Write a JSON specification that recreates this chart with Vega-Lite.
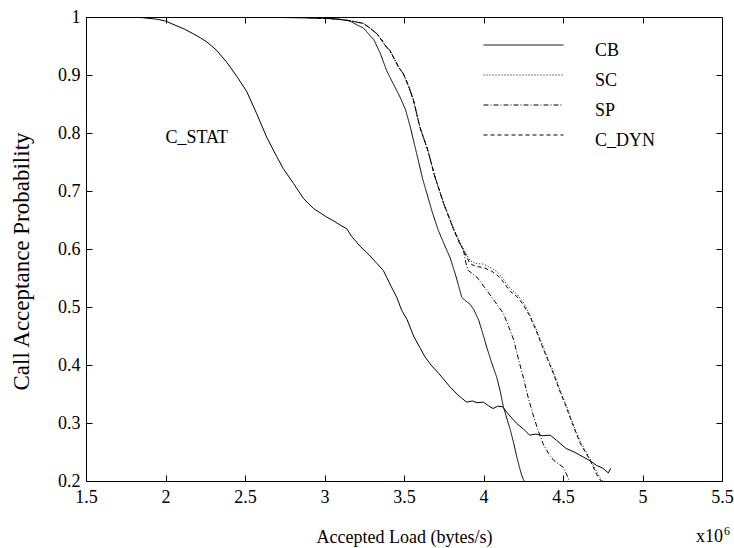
{
  "$schema": "https://vega.github.io/schema/vega-lite/v6.json",
  "width": 636,
  "height": 464,
  "autosize": {"type": "none"},
  "padding": {"left": 86, "top": 17, "right": 12, "bottom": 67},
  "background": "white",
  "config": {
    "view": {"stroke": "black", "strokeWidth": 1},
    "font": "Liberation Serif, serif",
    "axis": {
      "grid": false,
      "domainColor": "black",
      "tickColor": "black",
      "labelColor": "black",
      "titleColor": "black",
      "labelFont": "Liberation Serif, serif",
      "titleFont": "Liberation Serif, serif",
      "labelFontSize": 18,
      "titleFontSize": 18,
      "titleFontWeight": "normal",
      "tickSize": -6,
      "labelFlush": false,
      "labelOverlap": false
    },
    "legend": {
      "orient": "none",
      "legendX": 397,
      "legendY": 13.5,
      "direction": "vertical",
      "symbolType": "stroke",
      "symbolSize": 6400,
      "symbolStrokeWidth": 1,
      "symbolStrokeColor": "black",
      "labelFont": "Liberation Serif, serif",
      "labelFontSize": 18,
      "labelColor": "black",
      "labelOffset": 31,
      "clipHeight": 29,
      "rowPadding": 0,
      "padding": 0,
      "labelBaseline": "alphabetic"
    }
  },
  "datasets": {
    "curves": [
      {"series": "C_STAT", "load": 1.5, "prob": 1.0},
      {"series": "C_STAT", "load": 1.7, "prob": 1.0},
      {"series": "C_STAT", "load": 1.85, "prob": 0.999},
      {"series": "C_STAT", "load": 1.95, "prob": 0.996},
      {"series": "C_STAT", "load": 2.0, "prob": 0.993},
      {"series": "C_STAT", "load": 2.06, "prob": 0.986},
      {"series": "C_STAT", "load": 2.12, "prob": 0.979},
      {"series": "C_STAT", "load": 2.175, "prob": 0.971},
      {"series": "C_STAT", "load": 2.22, "prob": 0.964},
      {"series": "C_STAT", "load": 2.26, "prob": 0.957},
      {"series": "C_STAT", "load": 2.32, "prob": 0.943},
      {"series": "C_STAT", "load": 2.385, "prob": 0.922},
      {"series": "C_STAT", "load": 2.45, "prob": 0.897},
      {"series": "C_STAT", "load": 2.51, "prob": 0.872},
      {"series": "C_STAT", "load": 2.574, "prob": 0.833},
      {"series": "C_STAT", "load": 2.636, "prob": 0.793},
      {"series": "C_STAT", "load": 2.7, "prob": 0.759},
      {"series": "C_STAT", "load": 2.74, "prob": 0.739},
      {"series": "C_STAT", "load": 2.805, "prob": 0.713},
      {"series": "C_STAT", "load": 2.868, "prob": 0.687},
      {"series": "C_STAT", "load": 2.93, "prob": 0.67},
      {"series": "C_STAT", "load": 3.014, "prob": 0.655},
      {"series": "C_STAT", "load": 3.06, "prob": 0.648},
      {"series": "C_STAT", "load": 3.1, "prob": 0.641},
      {"series": "C_STAT", "load": 3.14, "prob": 0.635},
      {"series": "C_STAT", "load": 3.17, "prob": 0.622},
      {"series": "C_STAT", "load": 3.223, "prob": 0.605},
      {"series": "C_STAT", "load": 3.28, "prob": 0.59},
      {"series": "C_STAT", "load": 3.33, "prob": 0.575},
      {"series": "C_STAT", "load": 3.37, "prob": 0.563},
      {"series": "C_STAT", "load": 3.42, "prob": 0.535},
      {"series": "C_STAT", "load": 3.454, "prob": 0.517},
      {"series": "C_STAT", "load": 3.486, "prob": 0.494},
      {"series": "C_STAT", "load": 3.52, "prob": 0.478},
      {"series": "C_STAT", "load": 3.56, "prob": 0.45},
      {"series": "C_STAT", "load": 3.6, "prob": 0.43},
      {"series": "C_STAT", "load": 3.632, "prob": 0.414},
      {"series": "C_STAT", "load": 3.67, "prob": 0.4},
      {"series": "C_STAT", "load": 3.72, "prob": 0.385},
      {"series": "C_STAT", "load": 3.79, "prob": 0.362},
      {"series": "C_STAT", "load": 3.84, "prob": 0.348},
      {"series": "C_STAT", "load": 3.894, "prob": 0.336},
      {"series": "C_STAT", "load": 3.93, "prob": 0.338},
      {"series": "C_STAT", "load": 3.96, "prob": 0.335},
      {"series": "C_STAT", "load": 3.999, "prob": 0.336},
      {"series": "C_STAT", "load": 4.03, "prob": 0.33},
      {"series": "C_STAT", "load": 4.06, "prob": 0.325},
      {"series": "C_STAT", "load": 4.09, "prob": 0.329},
      {"series": "C_STAT", "load": 4.12, "prob": 0.328},
      {"series": "C_STAT", "load": 4.16, "prob": 0.314},
      {"series": "C_STAT", "load": 4.21, "prob": 0.299},
      {"series": "C_STAT", "load": 4.25, "prob": 0.29},
      {"series": "C_STAT", "load": 4.29, "prob": 0.279},
      {"series": "C_STAT", "load": 4.33, "prob": 0.281},
      {"series": "C_STAT", "load": 4.37, "prob": 0.278},
      {"series": "C_STAT", "load": 4.42, "prob": 0.279},
      {"series": "C_STAT", "load": 4.46, "prob": 0.27},
      {"series": "C_STAT", "load": 4.52, "prob": 0.256},
      {"series": "C_STAT", "load": 4.57, "prob": 0.25},
      {"series": "C_STAT", "load": 4.63, "prob": 0.241},
      {"series": "C_STAT", "load": 4.67, "prob": 0.235},
      {"series": "C_STAT", "load": 4.71, "prob": 0.227},
      {"series": "C_STAT", "load": 4.75, "prob": 0.222},
      {"series": "C_STAT", "load": 4.785, "prob": 0.214},
      {"series": "C_STAT", "load": 4.8, "prob": 0.222},

      {"series": "CB", "load": 1.5, "prob": 1.0},
      {"series": "CB", "load": 2.5, "prob": 1.0},
      {"series": "CB", "load": 2.99, "prob": 0.998},
      {"series": "CB", "load": 3.1, "prob": 0.996},
      {"series": "CB", "load": 3.16, "prob": 0.993},
      {"series": "CB", "load": 3.2, "prob": 0.987},
      {"series": "CB", "load": 3.245, "prob": 0.981},
      {"series": "CB", "load": 3.286, "prob": 0.968},
      {"series": "CB", "load": 3.31, "prob": 0.961},
      {"series": "CB", "load": 3.35, "prob": 0.938},
      {"series": "CB", "load": 3.39, "prob": 0.908},
      {"series": "CB", "load": 3.41, "prob": 0.897},
      {"series": "CB", "load": 3.475, "prob": 0.862},
      {"series": "CB", "load": 3.51, "prob": 0.84},
      {"series": "CB", "load": 3.54, "prob": 0.81},
      {"series": "CB", "load": 3.58, "prob": 0.764},
      {"series": "CB", "load": 3.62, "prob": 0.718},
      {"series": "CB", "load": 3.65, "prob": 0.69},
      {"series": "CB", "load": 3.674, "prob": 0.667},
      {"series": "CB", "load": 3.7, "prob": 0.645},
      {"series": "CB", "load": 3.716, "prob": 0.632},
      {"series": "CB", "load": 3.75, "prob": 0.61},
      {"series": "CB", "load": 3.79, "prob": 0.585},
      {"series": "CB", "load": 3.83, "prob": 0.55},
      {"series": "CB", "load": 3.863, "prob": 0.517},
      {"series": "CB", "load": 3.89, "prob": 0.51},
      {"series": "CB", "load": 3.915, "prob": 0.505},
      {"series": "CB", "load": 3.94, "prob": 0.495},
      {"series": "CB", "load": 3.97, "prob": 0.477},
      {"series": "CB", "load": 4.0, "prob": 0.45},
      {"series": "CB", "load": 4.02, "prob": 0.431},
      {"series": "CB", "load": 4.05, "prob": 0.405},
      {"series": "CB", "load": 4.083, "prob": 0.379},
      {"series": "CB", "load": 4.105, "prob": 0.355},
      {"series": "CB", "load": 4.125, "prob": 0.328},
      {"series": "CB", "load": 4.15, "prob": 0.305},
      {"series": "CB", "load": 4.17, "prob": 0.287},
      {"series": "CB", "load": 4.19, "prob": 0.265},
      {"series": "CB", "load": 4.21, "prob": 0.241},
      {"series": "CB", "load": 4.225, "prob": 0.225},
      {"series": "CB", "load": 4.24, "prob": 0.21},
      {"series": "CB", "load": 4.255, "prob": 0.2},

      {"series": "SC", "load": 1.5, "prob": 1.0},
      {"series": "SC", "load": 2.8, "prob": 1.0},
      {"series": "SC", "load": 3.055, "prob": 0.997},
      {"series": "SC", "load": 3.15, "prob": 0.994},
      {"series": "SC", "load": 3.245, "prob": 0.989},
      {"series": "SC", "load": 3.29, "prob": 0.98},
      {"series": "SC", "load": 3.33, "prob": 0.971},
      {"series": "SC", "load": 3.36, "prob": 0.96},
      {"series": "SC", "load": 3.39, "prob": 0.948},
      {"series": "SC", "load": 3.41, "prob": 0.943},
      {"series": "SC", "load": 3.454, "prob": 0.92},
      {"series": "SC", "load": 3.465, "prob": 0.914},
      {"series": "SC", "load": 3.496, "prob": 0.902},
      {"series": "SC", "load": 3.53, "prob": 0.88},
      {"series": "SC", "load": 3.56, "prob": 0.856},
      {"series": "SC", "load": 3.6, "prob": 0.81},
      {"series": "SC", "load": 3.65, "prob": 0.77},
      {"series": "SC", "load": 3.695, "prob": 0.724},
      {"series": "SC", "load": 3.75, "prob": 0.679},
      {"series": "SC", "load": 3.81, "prob": 0.637},
      {"series": "SC", "load": 3.85, "prob": 0.613},
      {"series": "SC", "load": 3.874, "prob": 0.601},
      {"series": "SC", "load": 3.915, "prob": 0.58},
      {"series": "SC", "load": 3.95, "prob": 0.575},
      {"series": "SC", "load": 4.0, "prob": 0.574},
      {"series": "SC", "load": 4.05, "prob": 0.567},
      {"series": "SC", "load": 4.083, "prob": 0.561},
      {"series": "SC", "load": 4.12, "prob": 0.55},
      {"series": "SC", "load": 4.167, "prob": 0.532},
      {"series": "SC", "load": 4.21, "prob": 0.522},
      {"series": "SC", "load": 4.25, "prob": 0.508},
      {"series": "SC", "load": 4.29, "prob": 0.488},
      {"series": "SC", "load": 4.33, "prob": 0.463},
      {"series": "SC", "load": 4.38, "prob": 0.428},
      {"series": "SC", "load": 4.44, "prob": 0.388},
      {"series": "SC", "load": 4.48, "prob": 0.358},
      {"series": "SC", "load": 4.52, "prob": 0.331},
      {"series": "SC", "load": 4.56, "prob": 0.301},
      {"series": "SC", "load": 4.61, "prob": 0.267},
      {"series": "SC", "load": 4.67, "prob": 0.238},
      {"series": "SC", "load": 4.7, "prob": 0.222},
      {"series": "SC", "load": 4.73, "prob": 0.207},
      {"series": "SC", "load": 4.75, "prob": 0.2},

      {"series": "SP", "load": 1.5, "prob": 1.0},
      {"series": "SP", "load": 2.8, "prob": 1.0},
      {"series": "SP", "load": 3.055, "prob": 0.997},
      {"series": "SP", "load": 3.15, "prob": 0.994},
      {"series": "SP", "load": 3.245, "prob": 0.989},
      {"series": "SP", "load": 3.29, "prob": 0.98},
      {"series": "SP", "load": 3.33, "prob": 0.971},
      {"series": "SP", "load": 3.36, "prob": 0.96},
      {"series": "SP", "load": 3.39, "prob": 0.948},
      {"series": "SP", "load": 3.41, "prob": 0.943},
      {"series": "SP", "load": 3.454, "prob": 0.92},
      {"series": "SP", "load": 3.465, "prob": 0.914},
      {"series": "SP", "load": 3.496, "prob": 0.902},
      {"series": "SP", "load": 3.53, "prob": 0.88},
      {"series": "SP", "load": 3.56, "prob": 0.856},
      {"series": "SP", "load": 3.6, "prob": 0.81},
      {"series": "SP", "load": 3.65, "prob": 0.77},
      {"series": "SP", "load": 3.695, "prob": 0.724},
      {"series": "SP", "load": 3.75, "prob": 0.678},
      {"series": "SP", "load": 3.81, "prob": 0.635},
      {"series": "SP", "load": 3.85, "prob": 0.61},
      {"series": "SP", "load": 3.874, "prob": 0.598},
      {"series": "SP", "load": 3.89, "prob": 0.575},
      {"series": "SP", "load": 3.904, "prob": 0.563},
      {"series": "SP", "load": 3.957, "prob": 0.552},
      {"series": "SP", "load": 4.02, "prob": 0.529},
      {"series": "SP", "load": 4.07, "prob": 0.51},
      {"series": "SP", "load": 4.125, "prob": 0.489},
      {"series": "SP", "load": 4.16, "prob": 0.465},
      {"series": "SP", "load": 4.19, "prob": 0.443},
      {"series": "SP", "load": 4.22, "prob": 0.41},
      {"series": "SP", "load": 4.25, "prob": 0.379},
      {"series": "SP", "load": 4.28, "prob": 0.345},
      {"series": "SP", "load": 4.31, "prob": 0.316},
      {"series": "SP", "load": 4.34, "prob": 0.29},
      {"series": "SP", "load": 4.375, "prob": 0.264},
      {"series": "SP", "load": 4.41, "prob": 0.247},
      {"series": "SP", "load": 4.44, "prob": 0.236},
      {"series": "SP", "load": 4.47, "prob": 0.23},
      {"series": "SP", "load": 4.5, "prob": 0.224},
      {"series": "SP", "load": 4.52, "prob": 0.213},
      {"series": "SP", "load": 4.54, "prob": 0.2},

      {"series": "C_DYN", "load": 1.5, "prob": 1.0},
      {"series": "C_DYN", "load": 2.8, "prob": 1.0},
      {"series": "C_DYN", "load": 3.055, "prob": 0.997},
      {"series": "C_DYN", "load": 3.15, "prob": 0.994},
      {"series": "C_DYN", "load": 3.245, "prob": 0.989},
      {"series": "C_DYN", "load": 3.29, "prob": 0.98},
      {"series": "C_DYN", "load": 3.33, "prob": 0.971},
      {"series": "C_DYN", "load": 3.36, "prob": 0.96},
      {"series": "C_DYN", "load": 3.39, "prob": 0.948},
      {"series": "C_DYN", "load": 3.41, "prob": 0.943},
      {"series": "C_DYN", "load": 3.454, "prob": 0.92},
      {"series": "C_DYN", "load": 3.465, "prob": 0.914},
      {"series": "C_DYN", "load": 3.496, "prob": 0.902},
      {"series": "C_DYN", "load": 3.53, "prob": 0.88},
      {"series": "C_DYN", "load": 3.56, "prob": 0.856},
      {"series": "C_DYN", "load": 3.6, "prob": 0.81},
      {"series": "C_DYN", "load": 3.65, "prob": 0.77},
      {"series": "C_DYN", "load": 3.695, "prob": 0.724},
      {"series": "C_DYN", "load": 3.75, "prob": 0.678},
      {"series": "C_DYN", "load": 3.81, "prob": 0.635},
      {"series": "C_DYN", "load": 3.85, "prob": 0.61},
      {"series": "C_DYN", "load": 3.874, "prob": 0.598},
      {"series": "C_DYN", "load": 3.915, "prob": 0.575},
      {"series": "C_DYN", "load": 3.95, "prob": 0.57},
      {"series": "C_DYN", "load": 4.0, "prob": 0.568},
      {"series": "C_DYN", "load": 4.05, "prob": 0.562},
      {"series": "C_DYN", "load": 4.083, "prob": 0.556},
      {"series": "C_DYN", "load": 4.12, "prob": 0.545},
      {"series": "C_DYN", "load": 4.167, "prob": 0.527},
      {"series": "C_DYN", "load": 4.21, "prob": 0.518},
      {"series": "C_DYN", "load": 4.25, "prob": 0.504},
      {"series": "C_DYN", "load": 4.29, "prob": 0.485},
      {"series": "C_DYN", "load": 4.33, "prob": 0.46},
      {"series": "C_DYN", "load": 4.38, "prob": 0.425},
      {"series": "C_DYN", "load": 4.44, "prob": 0.385},
      {"series": "C_DYN", "load": 4.48, "prob": 0.355},
      {"series": "C_DYN", "load": 4.52, "prob": 0.328},
      {"series": "C_DYN", "load": 4.56, "prob": 0.298},
      {"series": "C_DYN", "load": 4.61, "prob": 0.264},
      {"series": "C_DYN", "load": 4.67, "prob": 0.236},
      {"series": "C_DYN", "load": 4.7, "prob": 0.218},
      {"series": "C_DYN", "load": 4.72, "prob": 0.207},
      {"series": "C_DYN", "load": 4.74, "prob": 0.2}
    ],
    "notes": [
      {"text": "C_STAT", "load": 2.0, "prob": 0.782}
    ]
  },
  "resolve": {"axis": {"x": "independent", "y": "independent"}},
  "layer": [
    {
      "data": {"name": "curves"},
      "transform": [{"filter": "datum.series === 'C_STAT'"}],
      "mark": {"type": "line", "color": "black", "strokeWidth": 1, "clip": true},
      "encoding": {
        "x": {
          "field": "load", "type": "quantitative",
          "scale": {"domain": [1.5, 5.5], "nice": false, "zero": false},
          "axis": {
            "orient": "bottom",
            "values": [1.5, 2, 2.5, 3, 3.5, 4, 4.5, 5, 5.5],
            "format": "~g",
            "labelPadding": 27,
            "labelBaseline": "alphabetic",
            "title": "Accepted Load (bytes/s)",
            "titleBaseline": "alphabetic",
            "titleY": 61
          }
        },
        "y": {
          "field": "prob", "type": "quantitative",
          "scale": {"domain": [0.2, 1.0], "nice": false, "zero": false},
          "axis": {
            "orient": "left",
            "values": [0.2, 0.3, 0.4, 0.5, 0.6, 0.7, 0.8, 0.9, 1.0],
            "format": "~g",
            "labelPadding": 12,
            "title": "Call Acceptance Probability",
            "titleFontSize": 23,
            "titleAngle": -90,
            "titleBaseline": "alphabetic",
            "titleAlign": "center",
            "titleX": -58,
            "titleY": 244
          }
        }
      }
    },
    {
      "data": {"name": "curves"},
      "transform": [{"filter": "datum.series !== 'C_STAT'"}],
      "mark": {"type": "line", "color": "black", "strokeWidth": 1, "clip": true},
      "encoding": {
        "x": {"field": "load", "type": "quantitative", "axis": null},
        "y": {"field": "prob", "type": "quantitative", "axis": null},
        "strokeDash": {
          "field": "series", "type": "nominal",
          "scale": {
            "domain": ["CB", "SC", "SP", "C_DYN"],
            "range": [[1, 0], [1, 2], [5, 2, 1, 2], [4, 3]]
          },
          "legend": {
            "title": null,
            "encode": {"labels": {"update": {"dy": {"value": 11}}}}
          }
        }
      }
    },
    {
      "data": {"name": "notes"},
      "mark": {"type": "text", "align": "left", "baseline": "alphabetic", "fontSize": 18, "font": "Liberation Serif, serif", "color": "black"},
      "encoding": {
        "x": {
          "field": "load", "type": "quantitative",
          "axis": {"orient": "top", "values": [2, 2.5, 3, 3.5, 4, 4.5, 5], "labels": false, "title": null, "domain": false}
        },
        "y": {
          "field": "prob", "type": "quantitative",
          "axis": {"orient": "right", "values": [0.3, 0.4, 0.5, 0.6, 0.7, 0.8, 0.9], "labels": false, "title": null, "domain": false}
        },
        "text": {"field": "text", "type": "nominal"}
      }
    },
    {
      "data": {"values": [{}]},
      "mark": {"type": "text", "text": "x10", "align": "left", "baseline": "alphabetic", "dx": -26, "dy": 61, "fontSize": 18, "font": "Liberation Serif, serif", "color": "black", "clip": false},
      "encoding": {
        "x": {"datum": 5.5, "type": "quantitative", "axis": null},
        "y": {"datum": 0.2, "type": "quantitative", "axis": null}
      }
    },
    {
      "data": {"values": [{}]},
      "mark": {"type": "text", "text": "6", "align": "left", "baseline": "alphabetic", "dx": 2, "dy": 54, "fontSize": 12, "font": "Liberation Serif, serif", "color": "black", "clip": false},
      "encoding": {
        "x": {"datum": 5.5, "type": "quantitative", "axis": null},
        "y": {"datum": 0.2, "type": "quantitative", "axis": null}
      }
    }
  ]
}
